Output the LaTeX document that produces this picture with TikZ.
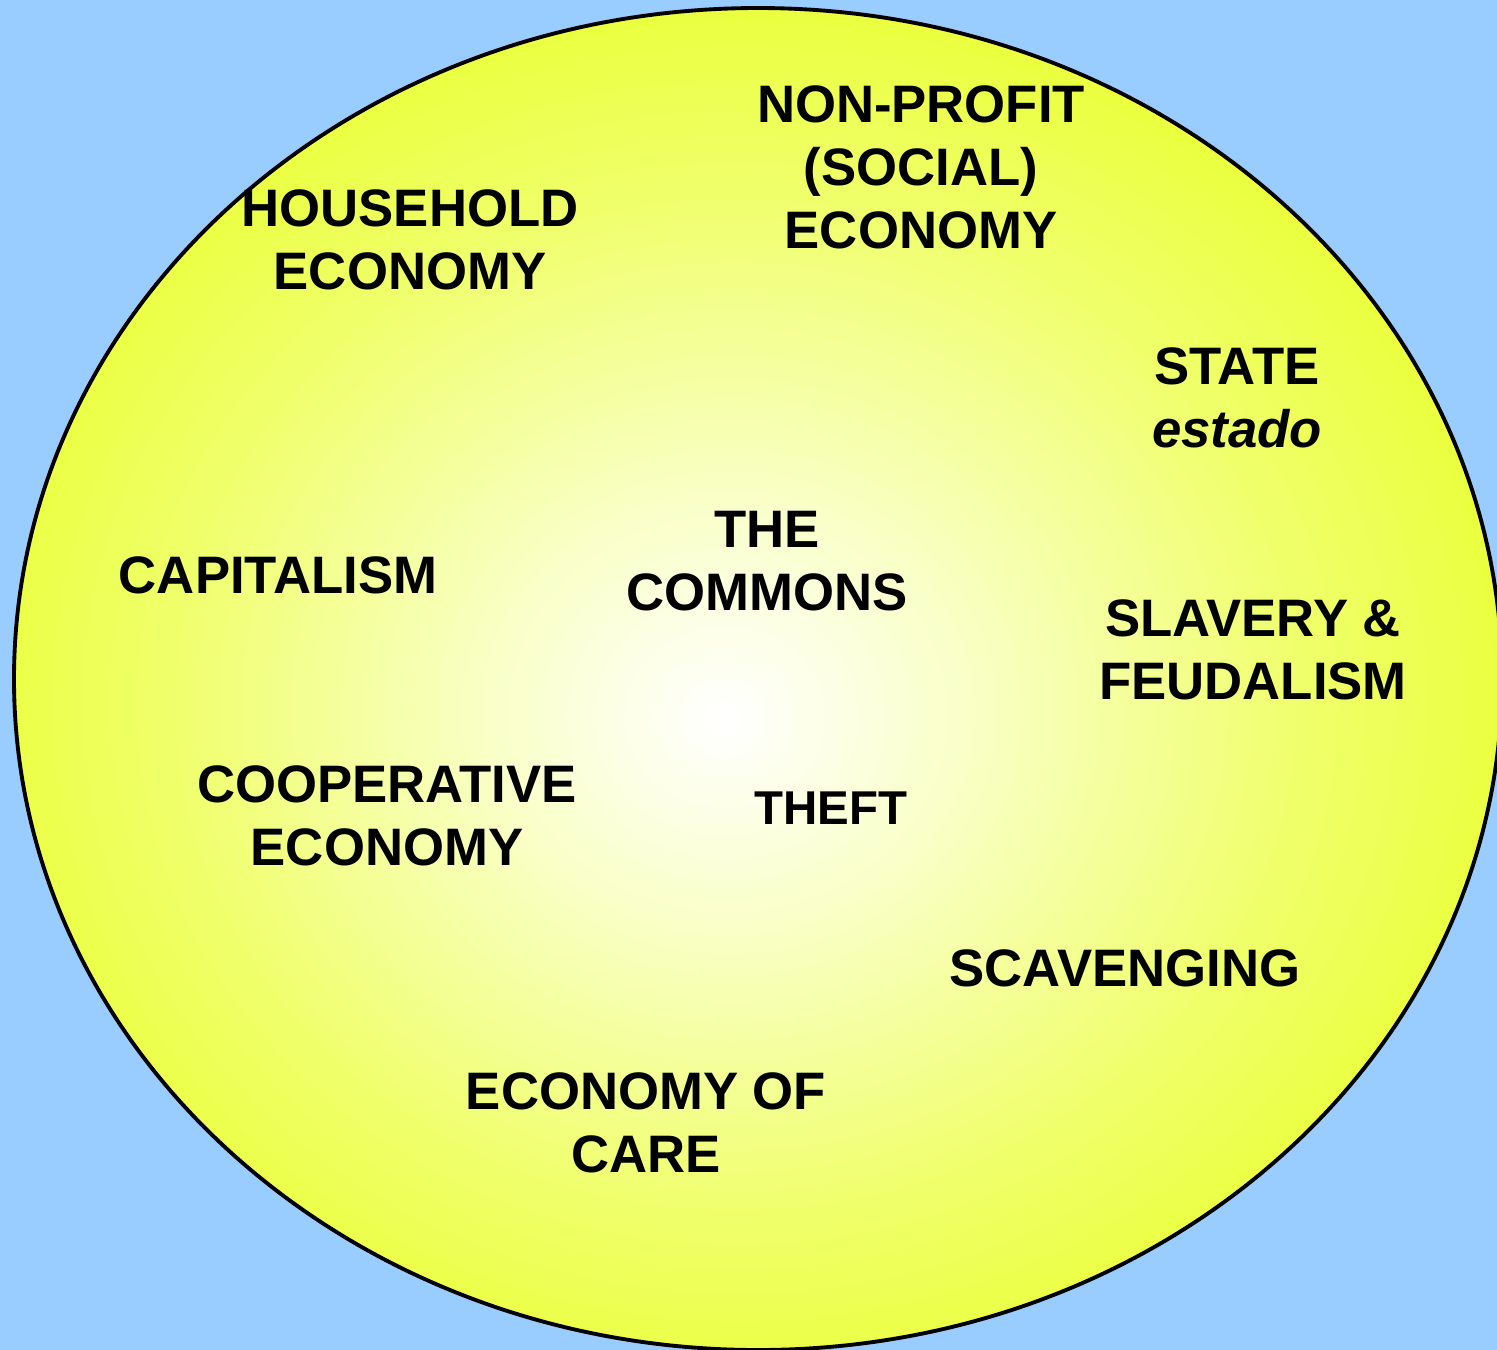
\documentclass[tikz,border=0pt]{standalone}
\usepackage{fontspec}
\setmainfont{Liberation Sans}
\usepackage{tikz}
\usepackage{xcolor}
\usetikzlibrary{
    positioning,
    shadings
}
\definecolor{skyblue}{RGB}{153,204,255}
\definecolor{glowyellow}{RGB}{228,255,0}
\pgfdeclareradialshading{commonsglow}{\pgfpoint{-1.2bp}{-1.5bp}}{%
  color(0bp)=(white);
  color(8bp)=(glowyellow!22!white);
  color(19bp)=(glowyellow!58!white);
  color(30bp)=(glowyellow!86!white);
  color(38bp)=(glowyellow);
  color(50bp)=(glowyellow)}
\tikzset{
  econ/.style  = {inner sep=0pt, align=center, font=\bfseries\fontsize{15}{17.9}\selectfont},
  econs/.style = {inner sep=0pt, align=center, font=\bfseries\fontsize{13.5}{16}\selectfont}
}

\begin{document}
\begin{tikzpicture}[
  disc/.style={draw=black, line width=1.1pt, shading=commonsglow}
]

\fill[skyblue] (0,0) rectangle (14.97,-13.5);
\useasboundingbox (0,0) rectangle (14.97,-13.5);
\shade[disc] (7.58,-6.79) ellipse [x radius=7.44, y radius=6.71];

\node[econ] (household) at (4.10,-2.40)  {HOUSEHOLD\\ECONOMY};
\node[econ] (nonprofit) at (9.21,-1.67)  {NON-PROFIT\\(SOCIAL)\\ECONOMY};
\node[econ] (state)     at (12.37,-3.98) {STATE\\\itshape estado};
\node[econ] (commons)   at (7.67,-5.61)  {THE\\COMMONS};
\node[econ] (capital)   at (2.78,-5.75)  {CAPITALISM};
\node[econ] (slavery)   at (12.53,-6.50) {SLAVERY \&\\FEUDALISM};
\node[econ] (coop)      at (3.87,-8.16)  {COOPERATIVE\\ECONOMY};
\node[econs] (theft)    at (8.31,-8.08)  {THEFT};
\node[econ] (scaveng)   at (11.25,-9.68) {SCAVENGING};
\node[econ] (care)      at (6.46,-11.23) {ECONOMY OF\\CARE};

\end{tikzpicture}
\end{document}
